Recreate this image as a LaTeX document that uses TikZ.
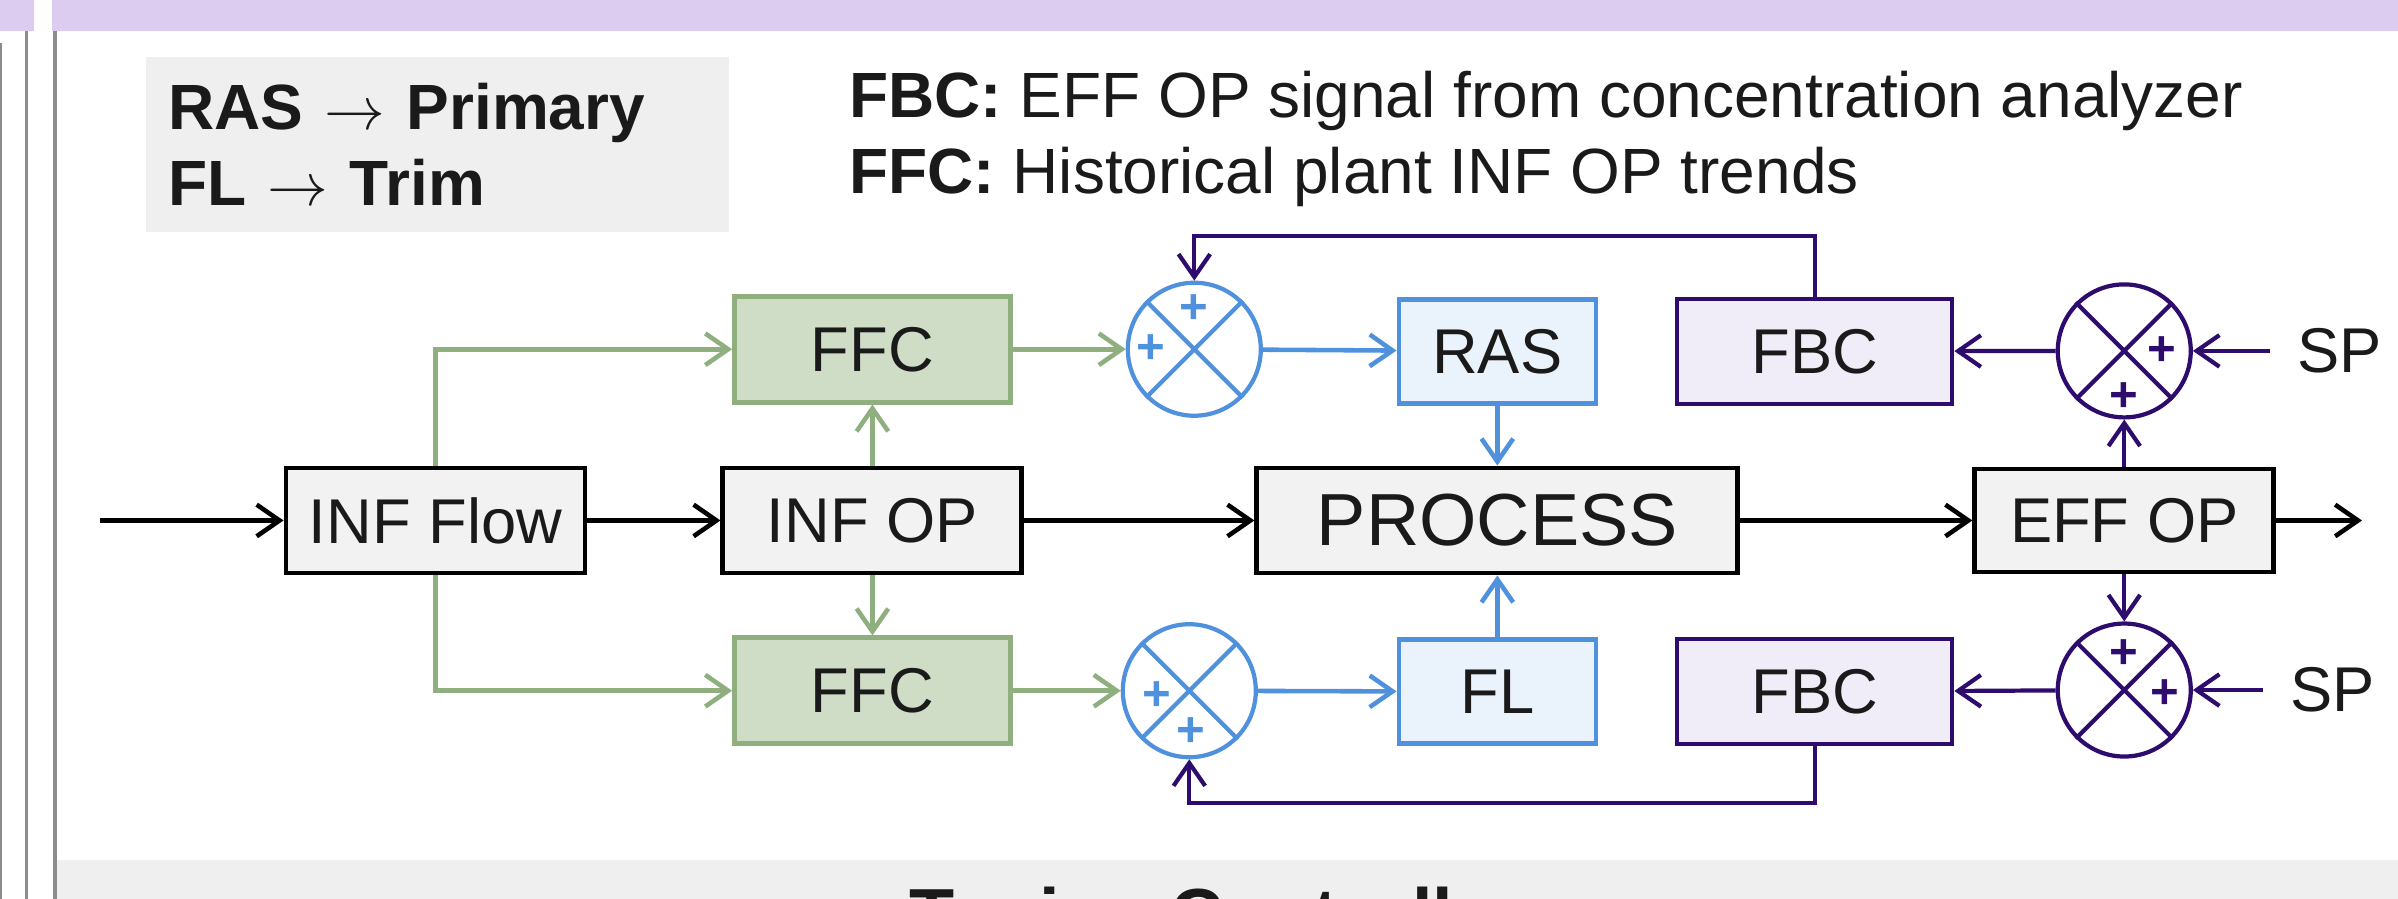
\documentclass[tikz,border=0pt]{standalone}
\usepackage{fontspec}
\setmainfont{Liberation Sans}
\usetikzlibrary{positioning,arrows.meta}

\definecolor{ffcline}{RGB}{143,175,127}
\definecolor{ffcfill}{RGB}{207,220,198}
\definecolor{rasline}{RGB}{80,145,221}
\definecolor{rasfill}{RGB}{234,242,252}
\definecolor{fbcline}{RGB}{46,12,110}
\definecolor{fbcfill}{RGB}{240,236,248}
\definecolor{blkfill}{RGB}{242,242,242}
\definecolor{ink}{RGB}{26,26,26}
\definecolor{bandpurple}{RGB}{220,205,240}
\definecolor{panelgray}{RGB}{239,239,239}
\definecolor{railgray}{RGB}{140,140,140}

\begin{document}
\begin{tikzpicture}[blk/.style={draw,line width=1.4pt,fill=blkfill,text=ink,inner sep=0pt,
  minimum width=2.99cm,minimum height=1.05cm,font=\fontsize{18}{20}\selectfont},
  ffc/.style={blk,draw=ffcline,fill=ffcfill,line width=1.3pt,minimum width=2.76cm,minimum height=1.06cm},
  ctl/.style={blk,draw=rasline,fill=rasfill,line width=1.3pt,minimum width=1.97cm,minimum height=1.04cm},
  fbc/.style={blk,draw=fbcline,fill=fbcfill,minimum width=2.75cm,line width=1.2pt},
  sumc/.style={circle,draw=#1,line width=1.2pt,minimum size=1.33cm,inner sep=0pt},
  plus/.style={text=#1,inner sep=0pt,font=\fontsize{14}{14}\selectfont\bfseries},
  sp/.style={text=ink,inner sep=0.25cm,font=\fontsize{18}{20}\selectfont},
  note/.style={text=ink,inner sep=0pt,font=\fontsize{18.2}{20}\selectfont},
  arr/.style={-{Straight Barb[length=6.5pt,width=9pt]},line width=1.3pt},
  line width=1.3pt]
\useasboundingbox (0,0) rectangle (23.98,8.99);
% frame of the slide
\fill[bandpurple] (0,8.68) rectangle (0.34,8.99);
\fill[bandpurple] (0.52,8.68) rectangle (23.98,8.99);
\fill[panelgray] (0.57,0) rectangle (23.98,0.39);
\draw[railgray,line width=0.4pt] (0.01,8.56) -- (0.01,0);
\draw[railgray,line width=1pt] (0.265,8.68) -- (0.265,0);
\draw[railgray,line width=1pt] (0.55,8.68) -- (0.55,0);
\begin{scope}
\clip (0.57,0) rectangle (23.98,0.39);
\node[note,anchor=base west,font=\fontsize{21}{21}\selectfont\bfseries] (title) at (9.07,-0.42) {Tuning Controllers};
\end{scope}
% notes
\node[anchor=north west,fill=panelgray,text=ink,align=left,text width=5.39cm,inner xsep=0.22cm,
  inner ysep=0.26cm,minimum height=1.75cm,font=\fontsize{18.2}{21.6}\selectfont\bfseries] (legend)
  at (1.44,8.44) {RAS $\rightarrow$ Primary\\FL $\rightarrow$ Trim};
\node[note,anchor=base west] (fbcnote) at (8.47,7.81) {\textbf{FBC:} EFF OP signal from concentration analyzer};
\node[note,anchor=base west] (ffcnote) at (8.47,7.05) {\textbf{FFC:} Historical plant INF OP trends};
% main chain
\node[blk] (flow) at (4.355,3.785) {INF Flow};
\node[blk,right=1.33cm of flow] (infop) {INF OP};
\node[blk,minimum width=4.81cm,font=\fontsize{21}{24}\selectfont,right=2.30cm of infop] (proc) {PROCESS};
\node[blk,minimum height=1.03cm,right=2.32cm of proc] (effop) {EFF OP};
\coordinate (in) at (1.00,3.785);
\coordinate (out) at (23.62,3.785);
% controllers
\node[ffc,above=0.61cm of infop] (ffct) {FFC};
\node[ffc,below=0.60cm of infop] (ffcb) {FFC};
\node[sumc=rasline,right=1.13cm of ffct] (sumt) {};
\node[sumc=rasline,right=1.08cm of ffcb] (sumb) {};
\node[ctl,above=0.60cm of proc] (ras) {RAS};
\node[ctl,below=0.62cm of proc] (fl) {FL};
\node[fbc,right=0.77cm of ras] (fbct) {FBC};
\node[fbc,right=0.77cm of fl] (fbcb) {FBC};
\node[sumc=fbcline,above=0.47cm of effop] (sumrt) {};
\node[sumc=fbcline,below=0.47cm of effop] (sumrb) {};
\node[sp,right=0.77cm of sumrt] (spt) {SP};
\node[sp,right=0.70cm of sumrb] (spb) {SP};
% summing junctions
\foreach \s/\c in {sumt/rasline,sumb/rasline,sumrt/fbcline,sumrb/fbcline}
  \draw[\c,line width=1.2pt] (\s.north west) -- (\s.south east) (\s.north east) -- (\s.south west);
\node[plus=rasline] (pta) at ([yshift=0.40cm]sumt.center) {+};
\node[plus=rasline] (ptb) at ([xshift=-0.43cm]sumt.center) {+};
\node[plus=rasline] (pba) at ([xshift=-0.32cm,yshift=-0.05cm]sumb.center) {+};
\node[plus=rasline] (pbb) at ([xshift=0.02cm,yshift=-0.41cm]sumb.center) {+};
\node[plus=fbcline] (pra) at ([xshift=0.38cm]sumrt.center) {+};
\node[plus=fbcline] (prb) at ([yshift=-0.46cm]sumrt.center) {+};
\node[plus=fbcline] (pqa) at ([yshift=0.36cm]sumrb.center) {+};
\node[plus=fbcline] (pqb) at ([xshift=0.41cm,yshift=-0.04cm]sumrb.center) {+};
% signal flow
\draw[arr] (in) -- (flow);
\draw[arr] (flow) -- (infop);
\draw[arr] (infop) -- (proc);
\draw[arr] (proc) -- (effop);
\draw[arr] (effop) -- (out);
\draw[arr,ffcline] (flow.north) |- (ffct);
\draw[arr,ffcline] (flow.south) |- (ffcb);
\draw[arr,ffcline] (infop) -- (ffct);
\draw[arr,ffcline] (infop) -- (ffcb);
\draw[arr,ffcline] (ffct) -- (sumt);
\draw[arr,ffcline] (ffcb) -- (sumb);
\draw[arr,rasline] (sumt) -- (ras);
\draw[arr,rasline] (sumb) -- (fl);
\draw[arr,rasline] (ras) -- (proc);
\draw[arr,rasline] (fl) -- (proc);
\draw[arr,fbcline,line width=1.2pt] (effop) -- (sumrt);
\draw[arr,fbcline,line width=1.2pt] (effop) -- (sumrb);
\draw[arr,fbcline,line width=1.2pt] (spt) -- (sumrt);
\draw[arr,fbcline,line width=1.2pt] (spb) -- (sumrb);
\draw[arr,fbcline,line width=1.2pt] (sumrt) -- (fbct);
\draw[arr,fbcline,line width=1.2pt] (sumrb) -- (fbcb);
\draw[arr,fbcline,line width=1.2pt] (fbct.north) -- ++(0,0.61) -| (sumt);
\draw[arr,fbcline,line width=1.2pt] (fbcb.south) -- ++(0,-0.57) -| (sumb);
\end{tikzpicture}
\end{document}
